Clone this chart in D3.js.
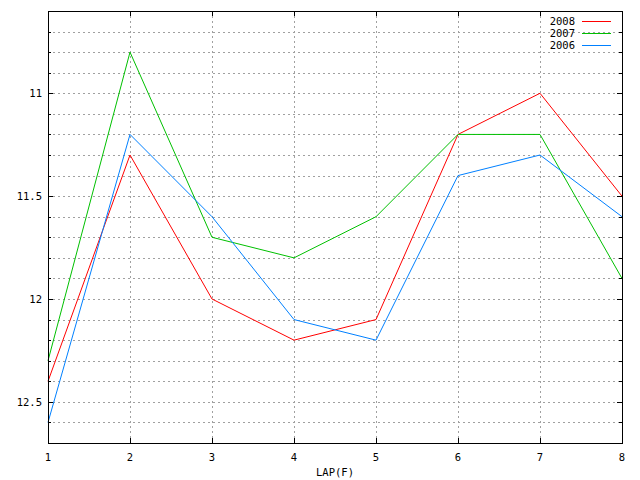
<!DOCTYPE html>
<html>
<head>
<meta charset="utf-8">
<script src="https://cdn.jsdelivr.net/npm/d3@7"></script>
<style>
  body { margin: 0; background: #fff; }
  text { font-family: "DejaVu Sans Mono", monospace; font-size: 10.5px; fill: #000; }
</style>
</head>
<body>
<div id="chart"></div>
<script>
// Lap numbers and values per year
const laps = [1, 2, 3, 4, 5, 6, 7, 8];
const years = ["2008", "2007", "2006"];
const values2008 = [12.4, 11.3, 12.0, 12.2, 12.1, 11.2, 11.0, 11.5];
const values2007 = [12.3, 10.8, 11.7, 11.8, 11.6, 11.2, 11.2, 11.9];
const values2006 = [12.6, 11.2, 11.6, 12.1, 12.2, 11.4, 11.3, 11.6];
const yTickLabels = [11, 11.5, 12, 12.5];
const colors = ["#ff0000", "#00c000", "#0080ff"];

const series = [values2008, values2007, values2006];

const width = 640, height = 480;
const margin = { top: 11, right: 18, bottom: 37, left: 48 };

const svg = d3.select("#chart").append("svg")
    .attr("width", width)
    .attr("height", height);

// x scale for laps, y scale reversed (smaller values on top)
const x = d3.scaleLinear().domain([1, 8]).range([margin.left, width - margin.right]);
const y = d3.scaleLinear().domain([10.6, 12.7]).range([margin.top, height - margin.bottom]);

// minor ticks every 0.1
const minorTicks = d3.range(107, 127).map(v => v / 10);

// grid lines
const grid = svg.append("g")
    .attr("stroke", "#a0a0a0")
    .attr("stroke-dasharray", "2,3")
    .attr("shape-rendering", "crispEdges");

grid.selectAll(".hgrid")
    .data(minorTicks)
    .enter().append("line")
    .attr("x1", margin.left).attr("x2", width - margin.right)
    .attr("y1", d => Math.round(y(d)) + 0.5).attr("y2", d => Math.round(y(d)) + 0.5);

grid.selectAll(".vgrid")
    .data(laps.slice(1, -1))
    .enter().append("line")
    .attr("x1", d => Math.round(x(d)) + 0.5).attr("x2", d => Math.round(x(d)) + 0.5)
    .attr("y1", margin.top).attr("y2", height - margin.bottom);

// ticks on all four sides
const ticks = svg.append("g").attr("stroke", "#000").attr("shape-rendering", "crispEdges");
const isMajor = d => yTickLabels.some(t => Math.abs(t - d) < 1e-6);

minorTicks.forEach(d => {
    const len = isMajor(d) ? 5 : 3;
    const yy = Math.round(y(d)) + 0.5;
    ticks.append("line").attr("x1", margin.left).attr("x2", margin.left + len).attr("y1", yy).attr("y2", yy);
    ticks.append("line").attr("x1", width - margin.right - len).attr("x2", width - margin.right).attr("y1", yy).attr("y2", yy);
});

laps.forEach(d => {
    const xx = Math.round(x(d)) + 0.5;
    ticks.append("line").attr("x1", xx).attr("x2", xx).attr("y1", height - margin.bottom).attr("y2", height - margin.bottom - 5);
    ticks.append("line").attr("x1", xx).attr("x2", xx).attr("y1", margin.top).attr("y2", margin.top + 5);
});

// tick labels
svg.selectAll(".ylabel")
    .data(yTickLabels)
    .enter().append("text")
    .attr("x", margin.left - 6)
    .attr("y", d => y(d))
    .attr("dy", "0.35em")
    .attr("text-anchor", "end")
    .text(d => d);

svg.selectAll(".xlabel")
    .data(laps)
    .enter().append("text")
    .attr("x", d => x(d))
    .attr("y", height - margin.bottom + 14)
    .attr("dy", "0.35em")
    .attr("text-anchor", "middle")
    .text(d => d);

svg.append("text")
    .attr("x", (margin.left + width - margin.right) / 2)
    .attr("y", 472)
    .attr("dy", "0.35em")
    .attr("text-anchor", "middle")
    .text("LAP(F)");

// data lines
const line = d3.line()
    .x((d, i) => x(laps[i]))
    .y(d => y(d));

series.forEach((s, i) => {
    svg.append("path")
        .datum(s)
        .attr("fill", "none")
        .attr("stroke", colors[i])
        .attr("stroke-width", 1)
        .attr("d", line);
});

// frame
svg.append("rect")
    .attr("x", margin.left + 0.5).attr("y", margin.top + 0.5)
    .attr("width", width - margin.left - margin.right)
    .attr("height", height - margin.top - margin.bottom)
    .attr("fill", "none")
    .attr("stroke", "#000")
    .attr("shape-rendering", "crispEdges");

// legend
const legend = svg.append("g");
years.forEach((yr, i) => {
    const ly = 21 + i * 12;
    legend.append("text")
        .attr("x", 575).attr("y", ly)
        .attr("dy", "0.35em")
        .attr("text-anchor", "end")
        .text(yr);
    legend.append("line")
        .attr("x1", 582).attr("x2", 611)
        .attr("y1", ly + 0.5).attr("y2", ly + 0.5)
        .attr("stroke", colors[i])
        .attr("shape-rendering", "crispEdges");
});
</script>
</body>
</html>
